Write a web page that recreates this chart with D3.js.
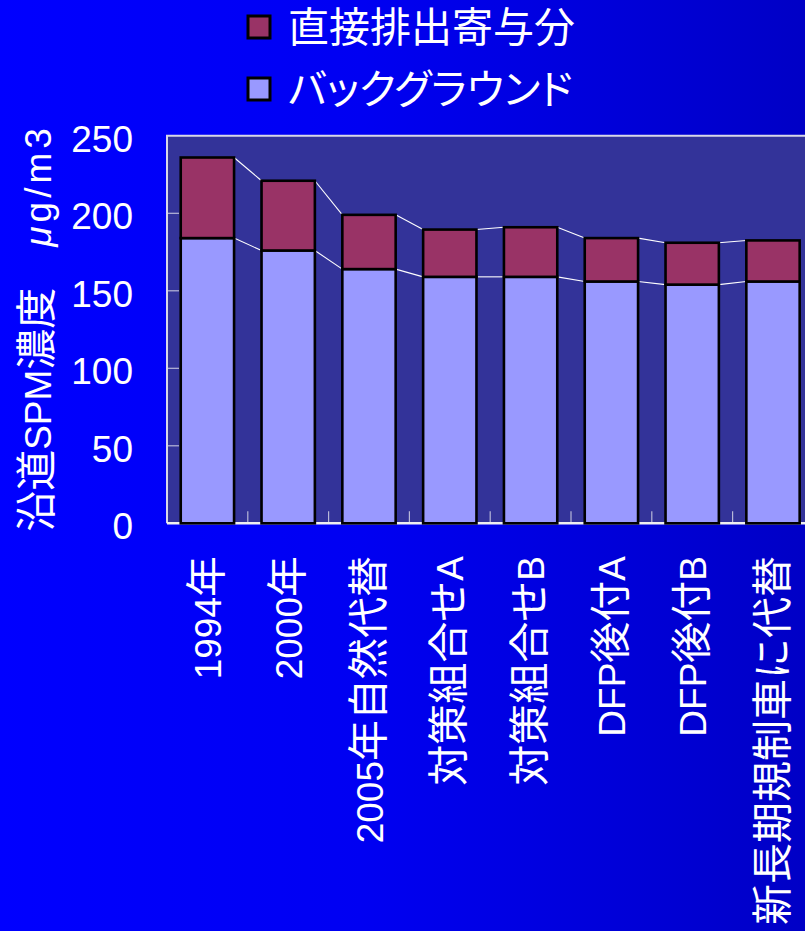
<!DOCTYPE html>
<html>
<head>
<meta charset="utf-8">
<script src="https://cdn.jsdelivr.net/npm/d3@7"></script>
<style>
  html, body { margin: 0; padding: 0; background: #0000ff; }
  svg { display: block; }
  text { font-family: "Liberation Sans", Arial, "Noto Sans CJK JP", sans-serif; fill: #ffffff; }
  .kana { font-feature-settings: "palt"; }
</style>
</head>
<body>
<script>
// Roadside SPM concentration by scenario (µg/m3)
const categories = ["1994年", "2000年", "2005年自然代替", "対策組合せA", "対策組合せB", "DFP後付A", "DFP後付B", "新長期規制車に代替"];
const background = [184, 176, 164, 159, 159, 156, 154, 156];
const directEmission = [52, 45, 35, 30.5, 32, 28, 27, 26.5];
const yTicks = [0, 50, 100, 150, 200, 250];
const seriesNames = ["直接排出寄与分", "バックグラウンド"];

const W = 805, H = 931;
const colors = { direct: "#993366", bg: "#9999ff", plot: "#333399" };
const latinSize = 37, cjkSize = 41;

const svg = d3.select("body").append("svg").attr("width", W).attr("height", H);

// write mixed Latin / CJK text as runs so each script gets its own size
function mixedText(sel, str) {
  const runs = str.match(/[\x00-\x7f]+|[^\x00-\x7f]+/g) || [];
  runs.forEach(r => {
    sel.append("tspan")
      .style("font-size", /^[\x00-\x7f]+$/.test(r) ? latinSize + "px" : cjkSize + "px")
      .text(r);
  });
}

// page gradient
const defs = svg.append("defs");
const grad = defs.append("linearGradient").attr("id", "pageGrad")
  .attr("x1", "0").attr("y1", "0").attr("x2", "1").attr("y2", "0");
grad.append("stop").attr("offset", "0").attr("stop-color", "#0000ff");
grad.append("stop").attr("offset", "0.45").attr("stop-color", "#0000f2");
grad.append("stop").attr("offset", "1").attr("stop-color", "#0000c6");
svg.append("rect").attr("width", W).attr("height", H).attr("fill", "url(#pageGrad)");

const plot = { left: 167, top: 135.8, bottom: 523.3 };
const step = 80.8;
const x = d3.scaleBand().domain(categories)
  .range([plot.left, plot.left + step * categories.length])
  .paddingInner(0.34).paddingOuter(0.17);
const y = d3.scaleLinear().domain([0, 250]).range([plot.bottom, plot.top]);

const rows = categories.map((c, i) => ({ cat: c, bg: background[i], direct: directEmission[i] }));
const stack = d3.stack().keys(["bg", "direct"])(rows);

// plot area
const plotRight = x.range()[1];
svg.append("rect")
  .attr("x", plot.left).attr("y", y(250))
  .attr("width", plotRight - plot.left).attr("height", y(0) - y(250))
  .attr("fill", colors.plot);

// inner tick marks on the value axis
svg.append("g").selectAll("line").data(yTicks.filter(t => t > 0 && t < 250)).join("line")
  .attr("x1", plot.left).attr("x2", plot.left + 12)
  .attr("y1", d => y(d)).attr("y2", d => y(d))
  .attr("stroke", "#b8b8d8").attr("stroke-width", 1.2);

// inner tick marks between categories
const boundaries = categories.slice(1).map(c => x(c) - x.step() * x.paddingInner() / 2);
svg.append("g").selectAll("line").data(boundaries).join("line")
  .attr("x1", d => d).attr("x2", d => d)
  .attr("y1", y(0)).attr("y2", y(0) - 12)
  .attr("stroke", "#b8b8d8").attr("stroke-width", 1.2);

// frame (top and left) and base axis
svg.append("path")
  .attr("d", `M${plot.left},${y(0)}V${y(250)}H${plotRight}`)
  .attr("fill", "none").attr("stroke", "#d8d8e8").attr("stroke-width", 2);
svg.append("line")
  .attr("x1", plot.left).attr("x2", plotRight).attr("y1", y(0)).attr("y2", y(0))
  .attr("stroke", "#f0f0f0").attr("stroke-width", 2.5);

// series lines joining the segment tops of neighbouring bars
const lineGen = d3.line();
stack.forEach(layer => {
  for (let i = 0; i < layer.length - 1; i++) {
    svg.append("path")
      .attr("d", lineGen([[x(categories[i]) + x.bandwidth(), y(layer[i][1])], [x(categories[i + 1]), y(layer[i + 1][1])]]))
      .attr("stroke", "#ffffff").attr("stroke-width", 1.1).attr("fill", "none");
  }
});

// stacked bars
const fills = { bg: colors.bg, direct: colors.direct };
stack.forEach(layer => {
  svg.append("g").selectAll("rect").data(layer).join("rect")
    .attr("x", d => x(d.data.cat))
    .attr("y", d => y(d[1]))
    .attr("width", x.bandwidth())
    .attr("height", d => y(d[0]) - y(d[1]))
    .attr("fill", fills[layer.key])
    .attr("stroke", "#000000").attr("stroke-width", 2.6);
});

// value axis labels
svg.append("g").selectAll("text").data(yTicks).join("text")
  .attr("x", 133).attr("y", d => y(d)).attr("dy", "0.43em")
  .attr("text-anchor", "end").style("font-size", "37px")
  .text(d => d);

// category labels, rotated
svg.append("g").selectAll("text").data(categories).join("text")
  .attr("transform", d => `translate(${x(d) + x.bandwidth() / 2},556) rotate(-90)`)
  .attr("dy", "0.36em").attr("text-anchor", "end").style("font-size", "38px")
  .each(function (d) { mixedText(d3.select(this), d); });

// value axis title
const title = svg.append("text")
  .attr("transform", "translate(37,328) rotate(-90)")
  .attr("dy", "0.36em").attr("text-anchor", "middle").style("font-size", "38px");
mixedText(title, "沿道SPM濃度　");
title.append("tspan").style("font-size", latinSize + "px").style("font-style", "italic")
  .style("letter-spacing", "4px").text("μ");
title.append("tspan").style("font-size", latinSize + "px")
  .style("letter-spacing", "4px").text("g/m3");

// legend
const legendFills = [colors.direct, colors.bg];
const legend = svg.append("g").selectAll("g").data(seriesNames).join("g")
  .attr("transform", (d, i) => `translate(248,${27 + i * 62})`);
legend.append("rect")
  .attr("x", 0).attr("y", -11).attr("width", 22).attr("height", 22)
  .attr("fill", (d, i) => legendFills[i]).attr("stroke", "#000").attr("stroke-width", 3);
legend.append("text")
  .attr("class", (d, i) => i === 1 ? "kana" : null)
  .attr("x", 40).attr("dy", "0.36em").style("font-size", cjkSize + "px")
  .text(d => d);
</script>
</body>
</html>
